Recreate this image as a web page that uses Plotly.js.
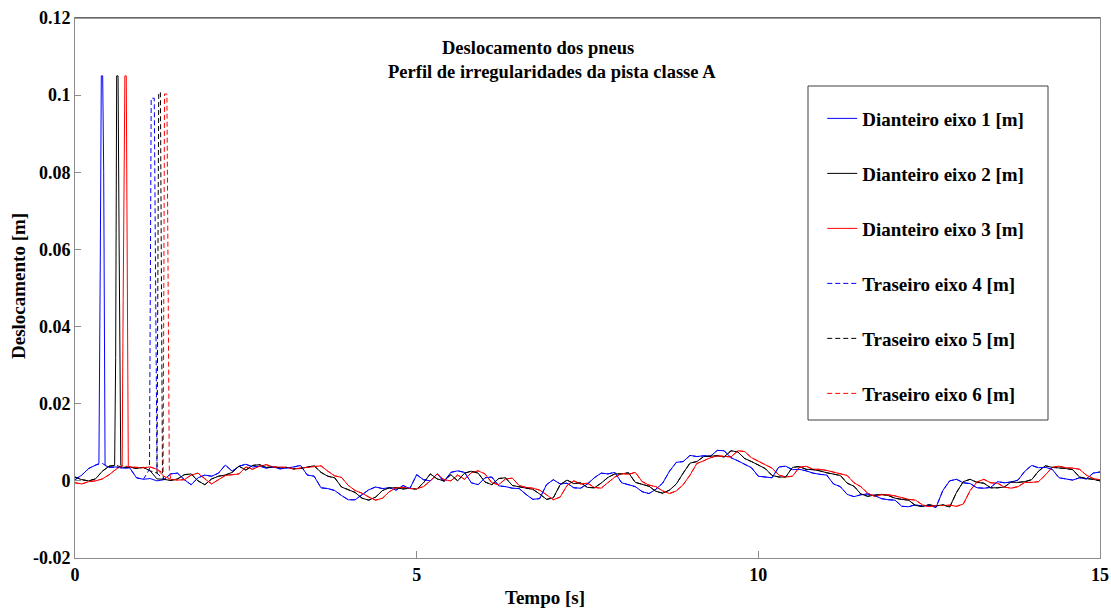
<!DOCTYPE html>
<html>
<head>
<meta charset="utf-8">
<script src="https://cdn.plot.ly/plotly-3.0.1.min.js"></script>
<style>html,body{margin:0;padding:0;background:#fff;}#chart{width:1111px;height:608px;}</style>
</head>
<body>
<div id="chart"></div>
<script>
// Time step of the sampled baseline readings (s)
const timeStep = 0.1;

// Baseline displacement, in mm, one value every 0.1 s (0 ... 15 s)
const eixo1_mm = [0.3,1.5,3.2,4.1,4.5,3.5,3.6,3.3,3.4,0.8,
  0.4,0.6,0.0,0.3,1.8,2.0,0.3,-1.0,0.8,1.5,
  1.2,2.0,4.1,2.5,3.8,4.3,3.6,3.8,3.3,3.6,
  3.1,3.3,3.6,4.0,1.5,1.2,-1.8,-2.0,-2.5,-3.8,
  -4.9,-4.9,-3.5,-2.3,-1.6,-2.0,-1.8,-2.4,-1.2,-2.0,
  1.6,0.3,0.0,1.8,-0.2,2.2,2.6,2.2,-0.5,-1.0,
  0.8,1.0,-1.3,-1.5,-1.9,-2.0,-3.5,-4.8,-4.6,-1.0,
  0.3,-0.8,-0.6,-1.8,-1.9,-0.8,0.8,2.0,1.8,2.2,
  -0.5,-1.0,-1.5,-2.8,-3.3,-2.2,-0.6,2.5,4.8,5.0,
  6.6,6.3,6.5,6.4,7.9,7.8,6.0,5.2,4.2,3.4,
  1.2,1.0,0.8,3.6,3.8,2.9,3.0,2.6,2.0,1.7,
  1.5,-0.8,-1.5,-3.5,-4.1,-3.6,-3.4,-3.8,-4.6,-4.9,
  -5.0,-6.6,-6.7,-6.2,-6.6,-6.3,-6.9,-2.5,0.0,0.4,
  -0.5,-0.7,-1.8,-1.9,-1.7,-0.2,-0.5,-0.3,0.2,2.5,
  4.0,3.4,3.5,3.0,0.8,0.5,0.2,0.8,0.5,2.0,
  2.3];
const eixo2_mm = [1.0,0.3,0.0,0.5,2.5,3.8,4.0,3.5,3.6,3.2,
  3.5,2.6,0.5,0.4,0.1,0.5,1.6,1.8,0.0,-1.0,
  0.5,1.2,1.5,2.2,3.8,2.8,4.0,4.2,3.5,3.6,
  3.4,3.5,3.1,3.2,3.6,3.9,2.2,1.2,0.8,-1.6,
  -2.3,-3.0,-4.5,-5.0,-4.2,-2.5,-1.8,-1.8,-2.1,-1.9,
  -2.2,-0.5,1.8,0.5,0.0,1.6,0.0,2.0,2.5,2.0,
  -0.3,-1.0,0.6,0.8,-1.2,-1.6,-1.8,-2.2,-3.4,-4.8,
  -4.4,-1.0,0.2,-0.7,-0.5,-1.7,-1.8,-0.6,0.9,1.8,
  1.8,2.1,-0.4,-1.0,-1.4,-2.7,-3.2,-2.4,-0.8,2.0,
  4.6,5.0,6.3,6.4,6.5,6.2,7.8,7.5,5.8,5.0,
  4.0,3.2,1.4,1.0,1.0,3.5,3.7,3.0,2.9,2.6,
  2.1,1.7,1.4,-0.6,-1.4,-3.4,-4.0,-3.7,-3.5,-3.8,
  -4.5,-4.8,-5.0,-6.4,-6.6,-6.2,-6.5,-6.2,-6.8,-3.0,
  -0.2,0.4,-0.4,-0.6,-1.8,-1.8,-1.6,-0.3,-0.4,-0.2,
  0.3,2.5,3.9,3.5,3.4,3.2,2.9,1.0,0.6,0.4,
  0.0];
const eixo3_mm = [-0.5,-0.8,-0.2,0.0,0.5,1.6,3.0,4.0,3.6,3.5,
  3.4,3.6,3.0,1.2,0.4,0.2,0.3,1.5,2.0,0.5,
  -0.8,0.3,1.4,1.6,1.8,3.6,3.0,3.8,4.2,3.6,
  3.5,3.5,3.1,3.3,3.4,3.6,3.9,2.5,1.3,0.9,
  -1.2,-2.5,-3.2,-4.2,-5.0,-4.5,-2.8,-1.8,-1.7,-2.0,
  -2.0,-1.5,0.0,1.8,0.3,0.0,1.5,0.4,2.1,2.6,
  1.8,-0.5,-1.0,0.5,0.7,-1.2,-1.7,-1.9,-2.4,-3.6,
  -4.9,-4.2,-1.2,0.0,-0.8,-0.6,-1.7,-1.9,-0.5,1.0,
  1.9,1.7,2.2,-0.2,-1.1,-1.5,-2.6,-3.3,-2.6,-1.0,
  1.5,4.5,5.2,6.0,6.5,6.4,6.2,7.8,7.6,6.0,
  5.2,4.2,3.3,1.5,1.0,1.2,3.5,3.8,3.0,3.0,
  2.7,2.2,1.8,1.4,-0.5,-1.5,-3.2,-4.0,-3.6,-3.6,
  -3.9,-4.4,-4.8,-5.0,-6.2,-6.7,-6.4,-6.4,-6.3,-6.6,
  -6.0,-2.5,-0.3,0.4,-0.5,-0.6,-1.6,-1.9,-1.5,-0.4,
  -0.4,-0.2,1.5,3.5,3.8,3.4,3.3,3.0,1.5,0.6,
  0.3];

// Tyre-drop spikes at the start of each series (time s, displacement m)
const spike1_t = [0.35,0.37,0.385,0.405,0.42,0.44];
const spike1_y = [0.0045,0.057,0.105,0.105,0.08,0.004];
const spike2_t = [0.58,0.595,0.61,0.63,0.645,0.67];
const spike2_y = [0.004,0.032,0.105,0.105,0.063,0.004];
const spike3_t = [0.69,0.705,0.72,0.73,0.75,0.78];
const spike3_y = [0.004,0.047,0.089,0.105,0.105,0.004];
const spike4_t = [1.09,1.115,1.16,1.20];
const spike4_y = [0.003,0.0992,0.0992,0.002];
const spike5_t = [1.20,1.225,1.25,1.28];
const spike5_y = [0.002,0.1007,0.1007,0.002];
const spike6_t = [1.29,1.31,1.345,1.38];
const spike6_y = [0.002,0.1003,0.1003,0.003];

const seriesNames = ['Dianteiro eixo 1 [m]','Dianteiro eixo 2 [m]','Dianteiro eixo 3 [m]',
                     'Traseiro eixo 4 [m]','Traseiro eixo 5 [m]','Traseiro eixo 6 [m]'];

const xTickVals = [0,5,10,15];
const xTickText = ['0','5','10','15'];
const yTickVals = [-0.02,0,0.02,0.04,0.06,0.08,0.1,0.12];
const yTickText = ['-0.02','0','0.02','0.04','0.06','0.08','0.1','0.12'];

function buildSeries(base_mm, sT, sY) {
  const x = [], y = [];
  let inserted = false;
  for (let i = 0; i < base_mm.length; i++) {
    const t = Math.round(i * timeStep * 1000) / 1000;
    if (t < sT[0]) { x.push(t); y.push(base_mm[i] / 1000); }
    else if (t > sT[sT.length - 1]) {
      if (!inserted) { for (let k = 0; k < sT.length; k++) { x.push(sT[k]); y.push(sY[k]); } inserted = true; }
      x.push(t); y.push(base_mm[i] / 1000);
    }
  }
  return {x, y};
}

const styles = [
  {color:'#0000ff', dash:'solid'},
  {color:'#000000', dash:'solid'},
  {color:'#ff0000', dash:'solid'},
  {color:'#0000ff', dash:'5px,3px'},
  {color:'#000000', dash:'5px,3px'},
  {color:'#ff0000', dash:'5px,3px'}
];
const data = [
  buildSeries(eixo1_mm, spike1_t, spike1_y),
  buildSeries(eixo2_mm, spike2_t, spike2_y),
  buildSeries(eixo3_mm, spike3_t, spike3_y),
  buildSeries(eixo1_mm, spike4_t, spike4_y),
  buildSeries(eixo2_mm, spike5_t, spike5_y),
  buildSeries(eixo3_mm, spike6_t, spike6_y)
];

const traces = data.map((d, i) => ({
  type: 'scatter', mode: 'lines', x: d.x, y: d.y, name: seriesNames[i],
  legendgroup: 'g' + i,
  line: {color: styles[i].color, width: 1, dash: styles[i].dash}
}));

const serif = 'Liberation Serif, Times New Roman, serif';
const layout = {
  width: 1111, height: 608,
  margin: {l: 75, r: 11, t: 18, b: 50},
  paper_bgcolor: '#ffffff', plot_bgcolor: '#ffffff',
  font: {family: serif, color: '#000'},
  showlegend: true,
  legend: {
    x: 0.729, xanchor: 'left', y: 0.849, yanchor: 'top',
    bgcolor: 'rgba(0,0,0,0)', borderwidth: 0,
    font: {family: serif, size: 19, color: '#000', weight: 'bold'},
    tracegroupgap: 27.3, traceorder: 'grouped', itemwidth: 30
  },
  xaxis: {
    range: [0, 15], tickvals: xTickVals, ticktext: xTickText,
    ticks: 'inside', ticklen: 7, tickcolor: '#8c8c8c',
    showline: true, linecolor: '#8c8c8c', linewidth: 1, mirror: true,
    showgrid: false, zeroline: false,
    tickfont: {family: serif, size: 18, color: '#000', weight: 'bold'}
  },
  yaxis: {
    range: [-0.02, 0.12], tickvals: yTickVals, ticktext: yTickText,
    ticks: 'inside', ticklen: 6, tickcolor: '#8c8c8c',
    showline: true, linecolor: '#8c8c8c', linewidth: 1, mirror: true,
    showgrid: false, zeroline: false,
    tickfont: {family: serif, size: 18, color: '#000', weight: 'bold'}
  },
  shapes: [
    {type: 'line', xref: 'paper', yref: 'paper', x0: 0, x1: 1, y0: 1, y1: 1,
     line: {color: '#404040', width: 1}},
    {type: 'rect', xref: 'paper', yref: 'paper',
     x0: (808 - 75) / 1025, x1: (1048 - 75) / 1025, y0: (558 - 420) / 540, y1: (558 - 86) / 540,
     line: {color: '#404040', width: 1}, fillcolor: 'rgba(255,255,255,1)', layer: 'below'}
  ],
  annotations: [
    {text: '<b>Deslocamento dos pneus</b>', xref: 'paper', yref: 'paper',
     x: (538 - 75) / 1025, y: (558 - 48) / 540, xanchor: 'center', yanchor: 'middle',
     showarrow: false, font: {family: serif, size: 18.5, color: '#000'}},
    {text: '<b>Perfil de irregularidades da pista classe A</b>', xref: 'paper', yref: 'paper',
     x: (552 - 75) / 1025, y: (558 - 72) / 540, xanchor: 'center', yanchor: 'middle',
     showarrow: false, font: {family: serif, size: 18.5, color: '#000'}},
    {text: '<b>Tempo [s]</b>', xref: 'paper', yref: 'paper',
     x: (545 - 75) / 1025, y: (558 - 598) / 540, xanchor: 'center', yanchor: 'middle',
     showarrow: false, font: {family: serif, size: 19, color: '#000'}},
    {text: '<b>Deslocamento [m]</b>', xref: 'paper', yref: 'paper',
     x: (18 - 75) / 1025, y: (558 - 286) / 540, xanchor: 'center', yanchor: 'middle',
     textangle: -90, showarrow: false, font: {family: serif, size: 19, color: '#000'}}
  ]
};

Plotly.newPlot('chart', traces, layout, {displayModeBar: false, staticPlot: true});
</script>
</body>
</html>
